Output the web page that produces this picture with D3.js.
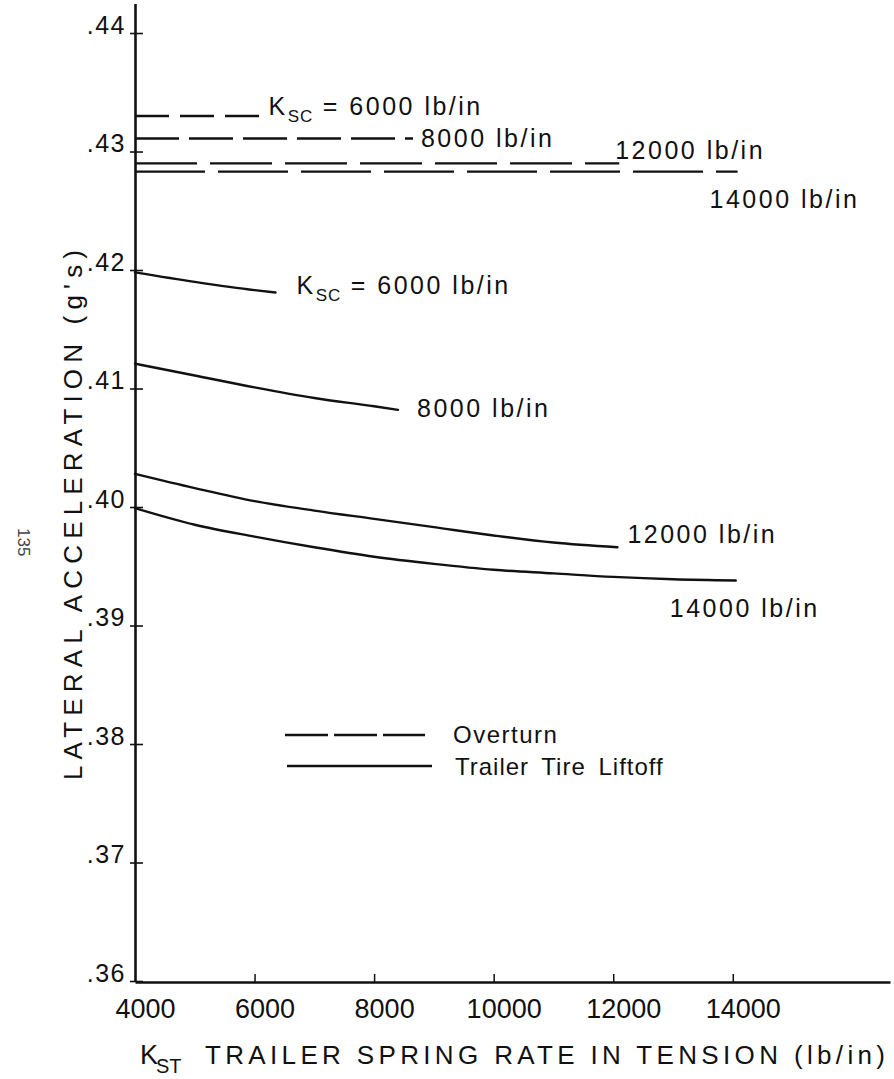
<!DOCTYPE html>
<html>
<head>
<meta charset="utf-8">
<script src="https://cdn.jsdelivr.net/npm/d3@7"></script>
<style>
  html, body { margin: 0; padding: 0; background: #fff; }
  svg { display: block; }
  text { font-family: "Liberation Sans", Arial, sans-serif; fill: #111; }
</style>
</head>
<body>
<svg id="chart" width="894" height="1079"></svg>
<script>
// ---------- data ----------
const xLabelValues = [4000, 6000, 8000, 10000, 12000, 14000];
const xTickLabels  = ["4000", "6000", "8000", "10000", "12000", "14000"];
const yTicks       = [0.36, 0.37, 0.38, 0.39, 0.40, 0.41, 0.42, 0.43, 0.44];
const yTickLabels  = [".36", ".37", ".38", ".39", ".40", ".41", ".42", ".43", ".44"];

// Overturn (dashed): Ksc value, constant lateral acceleration, start/end of KST
const overturnKsc   = [6000, 8000, 12000, 14000];
const overturnLevel = [0.4330, 0.4311, 0.4290, 0.4283];
const overturnStart = [4000, 4000, 4000, 4000];
const overturnEnd   = [6100, 8650, 12100, 14080];
const overturnText  = ["= 6000 lb/in", "8000 lb/in", "12000 lb/in", "14000 lb/in"];

// Trailer tire liftoff (solid): [KST, lateral acceleration]
const liftoff6000  = [[4000, 0.4198], [5000, 0.4190], [6000, 0.4183], [6350, 0.4181]];
const liftoff8000  = [[4000, 0.4121], [5000, 0.4111], [6000, 0.4101], [7000, 0.4092], [8000, 0.4085], [8400, 0.4082]];
const liftoff12000 = [[4000, 0.4028], [5000, 0.4016], [6000, 0.4005], [7000, 0.3997], [8000, 0.3990],
                      [9000, 0.3983], [10000, 0.3976], [11000, 0.3970], [12070, 0.3966]];
const liftoff14000 = [[4000, 0.3999], [5000, 0.3985], [6000, 0.3975], [7000, 0.3966], [8000, 0.3958],
                      [9000, 0.3952], [10000, 0.3947], [11000, 0.3944], [12000, 0.3941], [13000, 0.3939], [14050, 0.3938]];
const liftoffText  = ["= 6000 lb/in", "8000 lb/in", "12000 lb/in", "14000 lb/in"];

const legendLabels = ["Overturn", "Trailer Tire Liftoff"];
const xTitle = "TRAILER SPRING RATE IN TENSION (lb/in)";
const yTitle = "LATERAL ACCELERATION (g's)";

// ---------- layout / style (pixels) ----------
const overturnDash = ["34,11", "44,10", "62,13", "70,13"];
const overturnLabelOffset = [[8, -1], [8, 9], [-4, -4], [-28, 36]];
const liftoffLabelOffset  = [[21, 1], [19, 7], [10, -4], [-66, 37]];
const ink = "#111";

const svg = d3.select("#chart");
const x = d3.scaleLinear().domain([4000, 16630]).range([135, 890]);
const y = d3.scaleLinear().domain([0.36, 0.4425]).range([981, 3.4]);

// ---------- axes ----------
const yAxis = d3.axisLeft(y)
  .tickValues(yTicks)
  .tickFormat((d, i) => yTickLabels[i])
  .tickSizeInner(5).tickSizeOuter(0).tickPadding(4);
const gy = svg.append("g")
  .attr("transform", `translate(${x(4000)},0)`)
  .call(yAxis)
  .attr("font-family", null).attr("font-size", null);
gy.select(".domain").attr("stroke", ink).attr("stroke-width", 2.6);
gy.selectAll(".tick line").attr("stroke", ink).attr("stroke-width", 1.6).attr("x1", 8);
gy.selectAll(".tick text")
  .attr("dy", 0).attr("y", 0)
  .attr("font-size", 25).attr("letter-spacing", 1.5)
  .attr("fill", ink);

const xAxis = d3.axisBottom(x)
  .tickValues(xLabelValues)
  .tickFormat((d, i) => xTickLabels[i])
  .tickSizeInner(-8).tickSizeOuter(0).tickPadding(0);
const gx = svg.append("g")
  .attr("transform", `translate(0,${y(0.36) + 1})`)
  .call(xAxis)
  .attr("font-family", null).attr("font-size", null);
gx.select(".domain").attr("stroke", ink).attr("stroke-width", 2.6);
gx.selectAll(".tick line").attr("stroke", ink).attr("stroke-width", 1.5);
gx.selectAll(".tick").filter(d => d === 4000).select("line").remove();
gx.selectAll(".tick text")
  .attr("dy", 0).attr("y", 36).attr("dx", 10)
  .attr("font-size", 27).attr("letter-spacing", 0)
  .attr("fill", ink);

// ---------- axis titles ----------
const xt = svg.append("g");
xt.append("text").attr("x", 140).attr("y", 1064).attr("font-size", 27).text("K");
xt.append("text").attr("x", 156).attr("y", 1073).attr("font-size", 20).text("ST");
xt.append("text").attr("x", 205).attr("y", 1064).attr("font-size", 26)
  .attr("textLength", 680).attr("lengthAdjust", "spacing").text(xTitle);

svg.append("text")
  .attr("transform", "translate(82,780) rotate(-90)")
  .attr("font-size", 26)
  .attr("textLength", 530).attr("lengthAdjust", "spacing")
  .text(yTitle);

svg.append("text")
  .attr("transform", "translate(18,528) rotate(90)")
  .attr("font-size", 17).style("fill", "#444")
  .text("135");

// ---------- series ----------
const line = d3.line().x(d => x(d[0])).y(d => y(d[1])).curve(d3.curveMonotoneX);

// Overturn dashed lines
overturnKsc.forEach((k, i) => {
  const pts = [[overturnStart[i], overturnLevel[i]], [overturnEnd[i], overturnLevel[i]]];
  svg.append("path").datum(pts)
    .attr("d", line).attr("fill", "none")
    .attr("stroke", ink).attr("stroke-width", 2.4)
    .attr("stroke-dasharray", overturnDash[i]);
});

// Liftoff solid curves
const liftoffSeries = [liftoff6000, liftoff8000, liftoff12000, liftoff14000];
liftoffSeries.forEach(s => {
  svg.append("path").datum(s)
    .attr("d", line).attr("fill", "none")
    .attr("stroke", ink).attr("stroke-width", 2.4)
    .attr("stroke-linecap", "round");
});

// ---------- curve labels ----------
function addLabel(px, py, txt, withK) {
  const t = svg.append("text").attr("x", px).attr("y", py)
    .attr("font-size", 25).attr("letter-spacing", 2.5);
  if (withK) {
    t.append("tspan").text("K");
    t.append("tspan").attr("font-size", 17).attr("dy", 7).attr("letter-spacing", 1).text("SC");
    t.append("tspan").attr("dy", -7).text(" " + txt);
  } else {
    t.text(txt);
  }
}
overturnKsc.forEach((k, i) => {
  const px = x(overturnEnd[i]) + overturnLabelOffset[i][0];
  const py = y(overturnLevel[i]) + overturnLabelOffset[i][1];
  addLabel(px, py, overturnText[i], i === 0);
});
liftoffSeries.forEach((s, i) => {
  const last = s[s.length - 1];
  const px = x(last[0]) + liftoffLabelOffset[i][0];
  const py = y(last[1]) + liftoffLabelOffset[i][1];
  addLabel(px, py, liftoffText[i], i === 0);
});

// ---------- legend ----------
const lg = svg.append("g");
lg.append("line").attr("x1", 285).attr("x2", 425).attr("y1", 735).attr("y2", 735)
  .attr("stroke", ink).attr("stroke-width", 2.4).attr("stroke-dasharray", "43,6");
lg.append("line").attr("x1", 287).attr("x2", 432).attr("y1", 766).attr("y2", 766)
  .attr("stroke", ink).attr("stroke-width", 2.4);
lg.append("text").attr("x", 453).attr("y", 743).attr("font-size", 24)
  .attr("letter-spacing", 1.5).text(legendLabels[0]);
lg.append("text").attr("x", 455).attr("y", 775).attr("font-size", 24)
  .attr("letter-spacing", 1).attr("word-spacing", 5).text(legendLabels[1]);
</script>
</body>
</html>
